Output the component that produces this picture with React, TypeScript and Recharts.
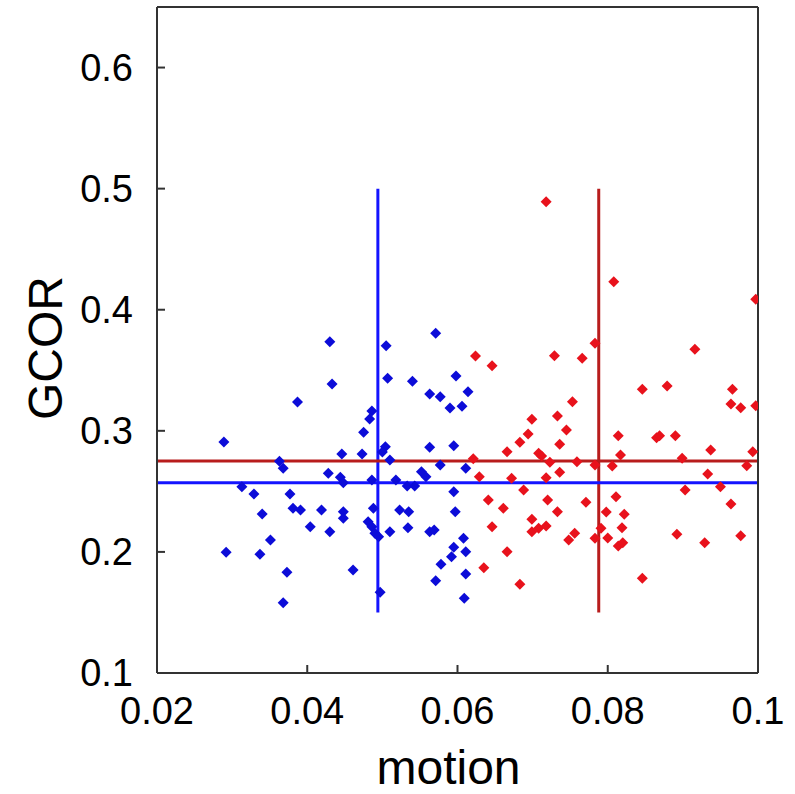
import React from "react";
import {
  ScatterChart,
  Scatter,
  XAxis,
  YAxis,
  ReferenceLine,
  Label,
} from "recharts";

// [motion, GCOR]
const blueGroup: [number, number][] = [
  [0.0387, 0.3238], [0.0289, 0.2908], [0.0363, 0.2748], [0.0368, 0.269], [0.0313, 0.2538],
  [0.0329, 0.2478], [0.0377, 0.2478], [0.034, 0.2313], [0.0381, 0.236], [0.0391, 0.2346],
  [0.0419, 0.2346], [0.0292, 0.1997], [0.0337, 0.198], [0.0351, 0.2098], [0.0373, 0.1832],
  [0.0368, 0.1581], [0.0404, 0.2208], [0.043, 0.3736], [0.0433, 0.3386], [0.0505, 0.3703],
  [0.0571, 0.3805], [0.0507, 0.3434], [0.054, 0.3409], [0.0598, 0.3453], [0.0614, 0.3323],
  [0.0563, 0.3304], [0.0577, 0.3282], [0.059, 0.3188], [0.0606, 0.3202], [0.0486, 0.3164],
  [0.0483, 0.3097], [0.0475, 0.2988], [0.0504, 0.2869], [0.05, 0.2825], [0.051, 0.2759],
  [0.0446, 0.2808], [0.0473, 0.2808], [0.0563, 0.2864], [0.0595, 0.2877], [0.0577, 0.2718],
  [0.0611, 0.269], [0.0428, 0.2649], [0.0444, 0.2616], [0.0448, 0.2571], [0.0486, 0.2594],
  [0.0518, 0.2594], [0.0533, 0.2544], [0.0543, 0.2544], [0.0552, 0.2662], [0.0558, 0.2621],
  [0.0595, 0.2497], [0.0448, 0.2332], [0.0448, 0.2277], [0.0488, 0.236], [0.0523, 0.2346],
  [0.0535, 0.2332], [0.0597, 0.2332], [0.043, 0.2167], [0.0481, 0.2249], [0.0486, 0.2208],
  [0.049, 0.2154], [0.0495, 0.2126], [0.051, 0.2167], [0.0534, 0.22], [0.0563, 0.2167],
  [0.0569, 0.2181], [0.0608, 0.2112], [0.0595, 0.2038], [0.0611, 0.2002], [0.0592, 0.196],
  [0.0578, 0.1898], [0.0461, 0.1851], [0.0571, 0.1762], [0.0611, 0.1818], [0.0609, 0.1617],
  [0.0497, 0.1666],
];

const redGroup: [number, number][] = [
  [0.0718, 0.4892], [0.0783, 0.3723], [0.0624, 0.3618], [0.0646, 0.3538], [0.0729, 0.362],
  [0.0766, 0.3599], [0.0753, 0.324], [0.0699, 0.3095], [0.0733, 0.3122], [0.0745, 0.3007],
  [0.0694, 0.2974], [0.0683, 0.2905], [0.0736, 0.2889], [0.0666, 0.2827], [0.0708, 0.2814],
  [0.0712, 0.2792], [0.0621, 0.2769], [0.0723, 0.274], [0.0759, 0.2745], [0.0783, 0.2718],
  [0.0629, 0.2621], [0.0672, 0.2608], [0.0718, 0.2613], [0.0736, 0.2657], [0.0688, 0.2511],
  [0.0641, 0.2429], [0.0661, 0.236], [0.072, 0.2429], [0.0771, 0.241], [0.0733, 0.2332],
  [0.0798, 0.2329], [0.0646, 0.2208], [0.0699, 0.2269], [0.0699, 0.2167], [0.0708, 0.2195],
  [0.0718, 0.2214], [0.0756, 0.2154], [0.0748, 0.2098], [0.0783, 0.2112], [0.0791, 0.2195],
  [0.08, 0.2115], [0.0666, 0.2002], [0.0635, 0.187], [0.0683, 0.1732], [0.0808, 0.4231],
  [0.0997, 0.4086], [0.0916, 0.3673], [0.0846, 0.3343], [0.0879, 0.337], [0.0966, 0.3343],
  [0.0964, 0.3221], [0.0977, 0.3191], [0.0997, 0.3207], [0.0814, 0.296], [0.0865, 0.2943],
  [0.0869, 0.296], [0.089, 0.296], [0.0817, 0.28], [0.0899, 0.2773], [0.0937, 0.2841],
  [0.0993, 0.2827], [0.0806, 0.2709], [0.0933, 0.2643], [0.0985, 0.2712], [0.0903, 0.2511],
  [0.095, 0.2538], [0.0811, 0.2456], [0.0964, 0.2396], [0.0822, 0.2311], [0.0819, 0.22],
  [0.0814, 0.2049], [0.082, 0.2076], [0.0892, 0.2145], [0.0929, 0.2076], [0.0977, 0.2134],
  [0.0846, 0.1782],
];

// group means: [motion mean, GCOR mean]
const blueMean = [0.0494, 0.2571];
const redMean = [0.0788, 0.2751];
const meanLineSpan = [0.15, 0.5];

const xTicks = [0.02, 0.04, 0.06, 0.08, 0.1];
const xTickLabels = ["0.02", "0.04", "0.06", "0.08", "0.1"];
const yTicks = [0.1, 0.2, 0.3, 0.4, 0.5, 0.6];
const yTickLabels = ["0.1", "0.2", "0.3", "0.4", "0.5", "0.6"];
const xDomain = [0.02, 0.1];
const yDomain = [0.1, 0.65];

const BLUE_PT = "#0c0cd8";
const BLUE_LN = "#1414ff";
const RED_PT = "#e8121c";
const RED_LN = "#b81c1c";
const AXIS = "#333";
const FONT = "'Liberation Sans', Arial, Helvetica, sans-serif";

const toData = (arr: [number, number][]) => arr.map(([motion, gcor]) => ({ motion, gcor }));
const frameData = [
  { motion: xDomain[0], gcor: yDomain[0] },
  { motion: xDomain[1], gcor: yDomain[1] },
];

const diamond = (color: string) => (props: any) => {
  const { cx, cy } = props;
  if (cx == null || cy == null) return <g />;
  const r = 5.5;
  return (
    <path
      d={`M${cx},${cy - r}L${cx + r},${cy}L${cx},${cy + r}L${cx - r},${cy}Z`}
      fill={color}
    />
  );
};

const fmt = (ticks: number[], labels: string[]) => (v: number) => {
  const i = ticks.findIndex((t) => Math.abs(t - v) < 1e-9);
  return i >= 0 ? labels[i] : String(v);
};

export default function App() {
  return (
    <div style={{ position: "absolute", left: 0, top: 0, background: "#fff" }}>
      <ScatterChart
        width={795}
        height={794}
        margin={{ top: 6, right: 36, bottom: 0, left: 0 }}
      >
        <XAxis
          xAxisId={0}
          dataKey="motion"
          type="number"
          domain={xDomain}
          ticks={xTicks}
          tickFormatter={fmt(xTicks, xTickLabels)}
          allowDataOverflow
          height={121}
          tickSize={-8}
          tickMargin={32}
          stroke={AXIS}
          strokeWidth={2}
          tick={{ fill: "#000", fontSize: 38, fontFamily: FONT }}
          interval={0}
        >
          <Label
            value="motion"
            position="insideBottom"
            offset={10}
            dx={-9}
            style={{ fill: "#000", fontSize: 48, fontFamily: FONT }}
          />
        </XAxis>
        <XAxis
          xAxisId="top"
          orientation="top"
          dataKey="motion"
          type="number"
          domain={xDomain}
          ticks={xTicks}
          allowDataOverflow
          height={1}
          tickSize={-8}
          tick={false}
          stroke={AXIS}
          strokeWidth={2}
          interval={0}
        />
        <YAxis
          yAxisId={0}
          dataKey="gcor"
          type="number"
          domain={yDomain}
          ticks={yTicks}
          tickFormatter={fmt(yTicks, yTickLabels)}
          allowDataOverflow
          width={157}
          tickSize={-8}
          tickMargin={32}
          stroke={AXIS}
          strokeWidth={2}
          tick={{ fill: "#000", fontSize: 38, fontFamily: FONT }}
          interval={0}
        >
          <Label
            content={(p: any) => {
              const vb = p.viewBox || {};
              const cx = vb.x + 62;
              const cy = vb.y + vb.height / 2 + 8;
              return (
                <text
                  x={cx}
                  y={cy}
                  transform={`rotate(-90 ${cx} ${cy})`}
                  textAnchor="middle"
                  style={{ fill: "#000", fontSize: 48, fontFamily: FONT }}
                >
                  GCOR
                </text>
              );
            }}
          />
        </YAxis>
        <YAxis
          yAxisId="right"
          orientation="right"
          dataKey="gcor"
          type="number"
          domain={yDomain}
          ticks={yTicks}
          allowDataOverflow
          width={1}
          tickSize={-8}
          tick={false}
          stroke={AXIS}
          strokeWidth={2}
          interval={0}
        />
        <Scatter
          name="frame"
          xAxisId="top"
          yAxisId="right"
          data={frameData}
          fill="none"
          shape={() => <g />}
          isAnimationActive={false}
        />
        <Scatter
          name="low"
          data={toData(blueGroup)}
          fill={BLUE_PT}
          shape={diamond(BLUE_PT)}
          isAnimationActive={false}
        />
        <Scatter
          name="high"
          data={toData(redGroup)}
          fill={RED_PT}
          shape={diamond(RED_PT)}
          isAnimationActive={false}
        />
        <ReferenceLine
          segment={[
            { x: blueMean[0], y: meanLineSpan[0] },
            { x: blueMean[0], y: meanLineSpan[1] },
          ]}
          stroke={BLUE_LN}
          strokeWidth={3}
        />
        <ReferenceLine
          segment={[
            { x: redMean[0], y: meanLineSpan[0] },
            { x: redMean[0], y: meanLineSpan[1] },
          ]}
          stroke={RED_LN}
          strokeWidth={3}
        />
        <ReferenceLine y={redMean[1]} stroke={RED_LN} strokeWidth={3} />
        <ReferenceLine y={blueMean[1]} stroke={BLUE_LN} strokeWidth={3} />
      </ScatterChart>
    </div>
  );
}
